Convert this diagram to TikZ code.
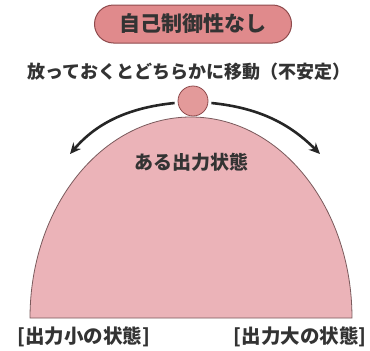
\documentclass[tikz,border=0pt]{standalone}
\usepackage{fontspec}
\setmainfont{Noto Sans CJK JP}
\usetikzlibrary{arrows.meta}
\definecolor{pillfill}{HTML}{E08A8C}
\definecolor{pilldraw}{HTML}{8E4A4C}
\definecolor{domefill}{HTML}{EBB3B8}
\definecolor{domedraw}{HTML}{7A5A5C}
\definecolor{ballfill}{HTML}{E39A9A}
\definecolor{txt}{HTML}{333333}
\tikzset{
  lbl/.style={text=txt, font=\bfseries\fontsize{18}{21}\selectfont, inner sep=0pt},
  movearrow/.style={line width=2.6pt, draw=black!85, -{Stealth[length=11pt,width=10pt]}},
}
\begin{document}
\begin{tikzpicture}[x=1pt,y=-1pt]
\useasboundingbox (0,0) rectangle (370,351);
% dome
\path[fill=domefill, draw=domedraw, line width=0.8pt]
  (30,318) arc[start angle=180, end angle=0, x radius=161, y radius=-201] -- cycle;
\coordinate (domecenter) at (191,318);
% pill
\node[draw=pilldraw, fill=pillfill, line width=1pt, rounded corners=19pt,
      minimum width=197pt, minimum height=38pt, text=txt,
      font=\bfseries\fontsize{21}{24}\selectfont] (pill) at (193,24) {自己制御性なし};
\node[lbl] (sub) at (189,72) {放っておくとどちらかに移動（不安定）};
% ball
\node[circle, draw=pilldraw, fill=ballfill, line width=0.8pt, minimum size=30pt, inner sep=0pt] (ball) at (193,101) {};
\node[lbl, font=\bfseries\fontsize{19}{22}\selectfont] (state) at (191,162) {ある出力状態};
\coordinate (lend) at (70,154);
\coordinate (rend) at (320,154);
\draw[movearrow] (ball.west) ++(-3,2) .. controls (125,108) and (95,125) .. (lend);
\draw[movearrow] (ball.east) ++(3,2) .. controls (261,108) and (291,125) .. (rend);
\node[lbl, font=\bfseries\fontsize{19.5}{22}\selectfont] (low) at (84,337) {[出力小の状態]};
\node[lbl, font=\bfseries\fontsize{19.5}{22}\selectfont] (high) at (300,337) {[出力大の状態]};
\end{tikzpicture}
\end{document}
